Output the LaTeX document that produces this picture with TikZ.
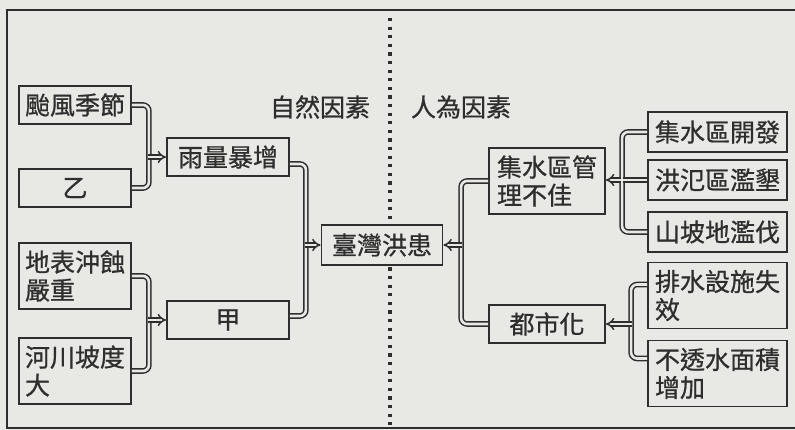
\documentclass[tikz,border=0pt]{standalone}
\usepackage{fontspec}
\setmainfont{Noto Sans CJK TC}[FakeBold=0.8]
\usepackage{tikz}
\usetikzlibrary{arrows.meta, positioning}
\definecolor{ink}{HTML}{2E2E2E}
\definecolor{paper}{RGB}{232,232,229}
\newcommand{\bigcjk}{\fontsize{25pt}{28pt}\selectfont}

\begin{document}
\begin{tikzpicture} [x=1pt, y=1pt, on grid,
  box/.style={draw=ink, line width=1.8pt, fill=paper, text=ink, font=\bigcjk,
    minimum height=38pt, inner sep=3pt, align=left},
  twoline/.style={minimum height=66pt},
  pipe/.style={draw=ink, line width=1.5pt, double=paper, double distance=2.6pt,
    rounded corners=6pt},
  label/.style={text=ink, font=\bigcjk}]
\fill[paper] (0,0) rectangle (795,-430);
\useasboundingbox (0,0) rectangle (795,-430);
\draw[ink, line width=2.2pt] (795,-10) -- (7,-10) -- (7,-428) -- (795,-428);

% dividing line
\coordinate (divtop) at (390,-18);
\coordinate (divbot) at (390,-430);
\draw[ink, line width=3.2pt, dash pattern=on 3.2pt off 5.4pt] (divtop) -- (divbot);

\node[label] (natural) at (320,-107) {自然因素};
\node[label] (human) at (461,-107) {人為因素};

% natural factors
\node[box, minimum width=112pt] (typhoon) at (75,-105) {颱風季節};
\node[box, minimum width=112pt] (yi) [below = 83pt of typhoon] {乙};
\node[box, twoline, minimum width=112pt] (erosion) [below = 88pt of yi] {地表沖蝕\\嚴重};
\node[box, twoline, minimum width=112pt] (slope) [below = 95pt of erosion] {河川坡度\\大};
\node[box, minimum width=122pt] (rain) at (228,-157) {雨量暴增};
\node[box, minimum width=122pt] (jia) [below = 163pt of rain] {甲};

\node[box, minimum width=121pt, minimum height=40pt] (flood) at (382,-245) {臺灣洪患};

% human factors
\node[box, twoline, minimum width=116pt] (mgmt) at (547,-181) {集水區管\\理不佳};
\node[box, minimum width=116pt] (urban) [below = 143pt of mgmt] {都市化};
\node[box, minimum width=139pt, minimum height=40pt] (dev) at (717.5,-132) {集水區開發};
\node[box, minimum width=139pt, minimum height=40pt] (reclaim) [below = 48pt of dev] {洪氾區濫墾};
\node[box, minimum width=139pt, minimum height=40pt] (logging) [below = 52pt of reclaim] {山坡地濫伐};
\node[box, twoline, minimum width=139pt] (drain) [below = 63.5pt of logging] {排水設施失\\效};
\node[box, twoline, minimum width=139pt] (imperv) [below = 78pt of drain] {不透水面積\\增加};

\draw[pipe] (typhoon.east) -- ++(17,0) |- (yi.east);
\draw[pipe, -{Implies[scale=1.6]}] (rain.west) ++(-17.7,0) -- (rain.west);
\draw[pipe] (erosion.east) -- ++(17,0) |- (slope.east);
\draw[pipe, -{Implies[scale=1.6]}] (jia.west) ++(-17.7,0) -- (jia.west);
\draw[pipe] ([yshift=-7pt]rain.east) -- ++(16,0) |- ([yshift=4pt]jia.east);
\draw[pipe, -{Implies[scale=1.6]}] (flood.west) ++(-15.2,0) -- (flood.west);

\draw[pipe] (mgmt.west) -- ++(-27,0) |- (urban.west);
\draw[pipe, -{Implies[scale=1.6]}] (flood.east) ++(18.2,0) -- (flood.east);
\draw[pipe] (dev.west) -- ++(-25,0) |- (logging.west);
\draw[pipe] (reclaim.west) -- ++(-23.7,0);
\draw[pipe, -{Implies[scale=1.6]}] (reclaim.west) ++(-26.3,0) -- (reclaim.west -| mgmt.east);
\draw[pipe] ([yshift=11pt]drain.west) -- ++(-16,0) |- ([yshift=15pt]imperv.west);
\draw[pipe, -{Implies[scale=1.6]}] (urban.east) ++(25.7,0) -- (urban.east);

\end{tikzpicture}
\end{document}
